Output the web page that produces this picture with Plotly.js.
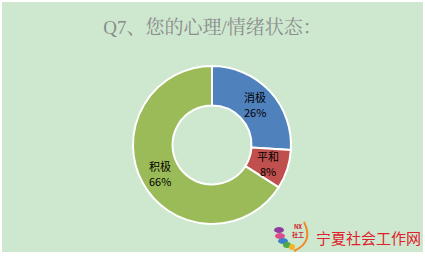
<!DOCTYPE html>
<html><head><meta charset="utf-8">
<script src="https://cdn.plot.ly/plotly-3.0.1.min.js"></script>
<style>
html,body{margin:0;padding:0;background:#ffffff;}
#chart{position:absolute;left:2px;top:2px;width:421px;height:250px;}
</style></head>
<body><div id="chart"></div>
<script>
const categories = ["消极", "平和", "积极"];
const values = [26, 8, 66];
const colors = ["#4F81BD", "#C0504D", "#9BBB59"];
const titleText = "Q7、您的心理/情绪状态：";
const watermark = "宁夏社会工作网";

const W = 421, H = 250;
const cx = 210, cy = 143, r = 79, hole = 0.5;
const trace = {
  type: "pie",
  labels: categories,
  values: values,
  hole: hole,
  sort: false,
  direction: "clockwise",
  rotation: 0,
  marker: {colors: colors, line: {color: "#ffffff", width: 2}},
  textinfo: "none",
  hoverinfo: "none",
  showlegend: false,
  domain: {x: [(cx - r) / W, (cx + r) / W], y: [(H - cy - r) / H, (H - cy + r) / H]}
};

// slice labels placed at the middle of each slice, computed from the data
const total = values.reduce((a, b) => a + b, 0);
const annotations = [];
let cum = 0;
const rm = r * (1 + hole) / 2;
const lblFont = {family: "Noto Sans CJK SC, sans-serif", size: 11, color: "#000000"};
values.forEach((v, i) => {
  const mid = (cum + v / 2) / total * 2 * Math.PI;
  cum += v;
  const px = cx + rm * Math.sin(mid);
  const py = cy - rm * Math.cos(mid);
  annotations.push({
    text: categories[i], x: px / W, y: 1 - (py - 7.5) / H, xref: "paper", yref: "paper",
    xanchor: "center", yanchor: "middle", showarrow: false, font: lblFont
  });
  annotations.push({
    text: Math.round(v / total * 100) + "%", x: px / W, y: 1 - (py + 7.5) / H, xref: "paper", yref: "paper",
    xanchor: "center", yanchor: "middle", showarrow: false, font: lblFont
  });
});
annotations.push(
  {text: watermark, x: 366 / W, y: 1 - 235 / H, xref: "paper", yref: "paper",
   xanchor: "center", yanchor: "middle", showarrow: false,
   font: {family: "Noto Sans CJK SC, sans-serif", size: 15, color: "#E0202A"}},
  {text: "<b>NX<br>社工</b>", x: 296 / W, y: 1 - 228 / H, xref: "paper", yref: "paper",
   xanchor: "center", yanchor: "middle", showarrow: false,
   font: {family: "Noto Sans CJK SC, sans-serif", size: 6, color: "#D0202A"}}
);

function ell(x, y, rx, ry, color) {
  return {type: "circle", xref: "paper", yref: "paper",
    x0: (x - rx) / W, x1: (x + rx) / W, y0: 1 - (y + ry) / H, y1: 1 - (y - ry) / H,
    fillcolor: color, line: {width: 0}};
}
const shapes = [
  ell(277, 228, 5, 3, "#8E3C9E"),
  ell(278, 234, 5, 3, "#E04A8A"),
  ell(281, 239, 5, 3, "#3A7FC8"),
  ell(285, 243, 4, 3, "#4DAA48"),
  ell(290, 245, 3, 3, "#F2B52A"),
  {type: "path", xref: "paper", yref: "paper",
   path: "M " + 302 / W + "," + (1 - 220 / H) + " Q " + 312 / W + "," + (1 - 240 / H) + " " + 292 / W + "," + (1 - 249 / H),
   line: {color: "#F08A24", width: 2}}
];

const layout = {
  width: W, height: H,
  margin: {l: 0, r: 0, t: 0, b: 0},
  paper_bgcolor: "#CDE8CF",
  plot_bgcolor: "#CDE8CF",
  title: {text: titleText, x: 0.5, xanchor: "center", y: 1 - 25 / H, yanchor: "middle",
          font: {family: "Liberation Serif, Noto Serif CJK SC, Noto Sans CJK SC, serif", size: 19, color: "#8C8C8C"}},
  annotations: annotations,
  shapes: shapes
};
Plotly.newPlot("chart", [trace], layout, {displayModeBar: false, staticPlot: true});
</script></body></html>
